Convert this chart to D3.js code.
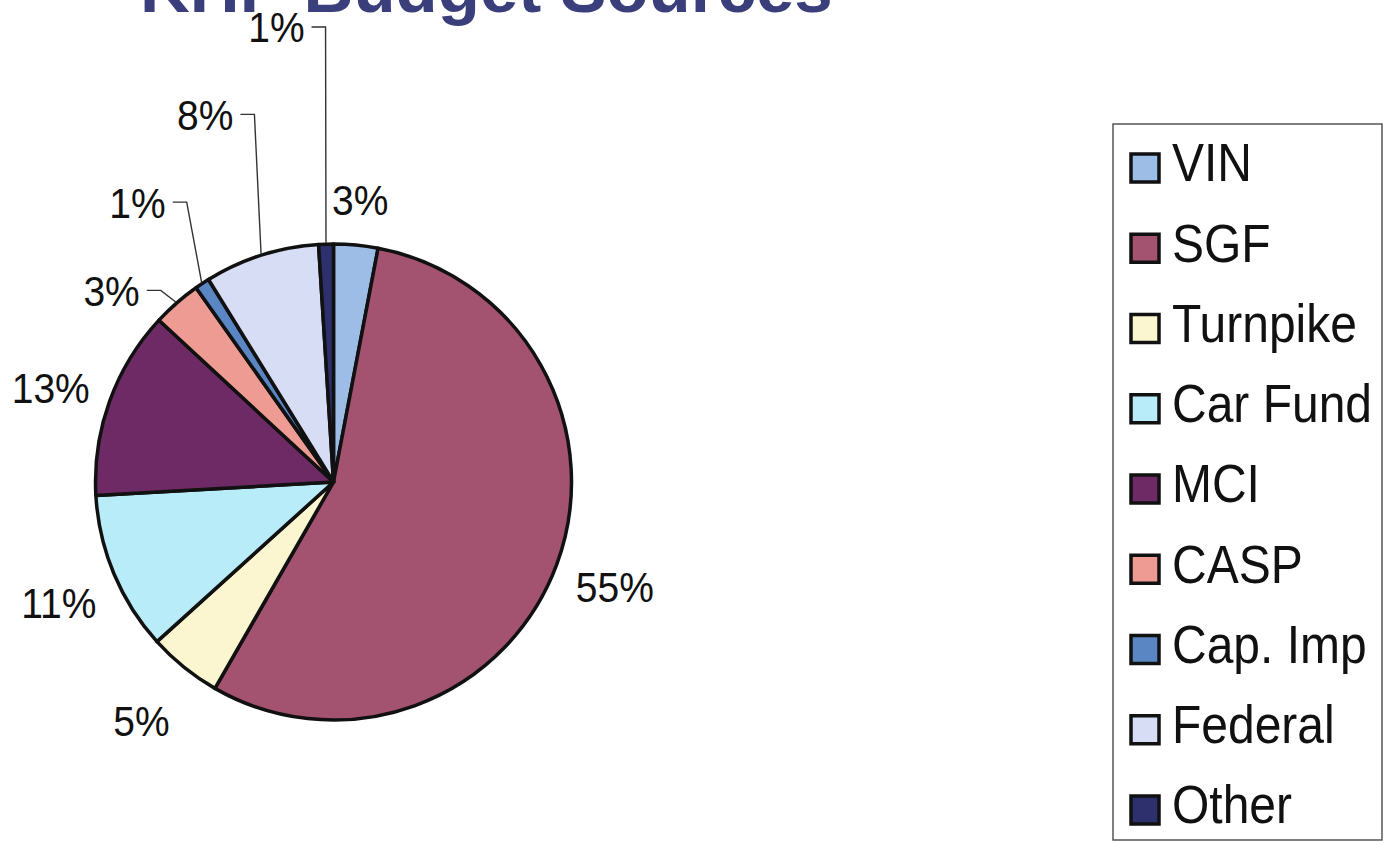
<!DOCTYPE html>
<html>
<head>
<meta charset="utf-8">
<script src="https://cdn.jsdelivr.net/npm/d3@7/dist/d3.min.js"></script>
<style>
  html, body { margin: 0; padding: 0; background: #fff; }
  svg { display: block; }
  text { font-family: "Liberation Sans", Arial, sans-serif; }
</style>
</head>
<body>
<svg id="chart" width="1386" height="845"></svg>
<script>
// ---- data ----
const title = "KHP Budget Sources";
const categories = ["VIN", "SGF", "Turnpike", "Car Fund", "MCI", "CASP", "Cap. Imp", "Federal", "Other"];
const values = [3.0, 55.3, 5.0, 10.8, 12.8, 3.3, 1.0, 7.8, 1.0];
const labels = ["3%", "55%", "5%", "11%", "13%", "3%", "1%", "8%", "1%"];
const colors = ["#9dbde6", "#a3536f", "#fbf6cf", "#b8ecf9", "#6d2a65", "#ee9c93", "#5a86c4", "#d8ddf6", "#2d306c"];

// ---- layout config (label placement, not data) ----
const labelRadius = [284, 300, 306, 300, 298, 258, 316, 376, 455];
const labelShiftDeg = [0, 0, 0, -1, -1.4, -0.8, 5.8, 5.5, 0.8];
const hasLeader = [false, false, false, false, false, true, true, true, true];

const svg = d3.select("#chart");
const cx = 333.5, cy = 482, R = 238;
const textScaleY = 1.1;

// title
svg.append("text")
  .attr("x", 140).attr("y", 12)
  .attr("font-size", 69).attr("font-weight", "bold")
  .attr("fill", "#3a3f7c")
  .text(title);

const pie = d3.pie().sort(null).value(d => d)(values);
const arc = d3.arc().innerRadius(0).outerRadius(R);

const g = svg.append("g").attr("transform", `translate(${cx},${cy})`);
g.selectAll("path.slice").data(pie).join("path")
  .attr("class", "slice")
  .attr("d", arc)
  .attr("fill", (d, i) => colors[i])
  .attr("stroke", "#111")
  .attr("stroke-width", 3.5)
  .attr("stroke-linejoin", "round");

const polar = (r, a) => [r * Math.sin(a), -r * Math.cos(a)];

pie.forEach((d, i) => {
  const mid = (d.startAngle + d.endAngle) / 2;
  const a = mid + labelShiftDeg[i] * Math.PI / 180;
  const [lx, ly] = polar(labelRadius[i], a);
  if (hasLeader[i]) {
    const [px, py] = polar(R + 1, mid);
    g.append("path")
      .attr("d", `M${lx - 14},${ly}L${lx},${ly}L${px},${py}`)
      .attr("fill", "none").attr("stroke", "#333").attr("stroke-width", 1.4);
    g.append("g").attr("transform", `translate(${lx - 21},${ly}) scale(1,${textScaleY})`)
      .append("text")
      .attr("text-anchor", "end").attr("dy", "0.358em")
      .attr("font-size", 39).attr("fill", "#111")
      .text(labels[i]);
  } else {
    g.append("g").attr("transform", `translate(${lx},${ly}) scale(1,${textScaleY})`)
      .append("text")
      .attr("text-anchor", "middle").attr("dy", "0.358em")
      .attr("font-size", 39).attr("fill", "#111")
      .text(labels[i]);
  }
});

// legend
const lg = svg.append("g");
lg.append("rect")
  .attr("x", 1113).attr("y", 124).attr("width", 269).attr("height", 716)
  .attr("fill", "#fff").attr("stroke", "#555").attr("stroke-width", 1.5);
const rowY = d3.scalePoint().domain(categories).range([168, 810]);
const items = lg.selectAll("g.item").data(categories).join("g")
  .attr("class", "item")
  .attr("transform", d => `translate(0,${rowY(d)})`);
items.append("rect")
  .attr("x", 1131).attr("y", -14).attr("width", 28).attr("height", 28)
  .attr("fill", (d, i) => colors[i]).attr("stroke", "#111").attr("stroke-width", 3.5);
items.append("g").attr("transform", `translate(1172,0) scale(1,${textScaleY})`)
  .append("text")
  .attr("dy", "0.358em").attr("y", -5)
  .attr("font-size", 48).attr("fill", "#111")
  .text(d => d);
</script>
</body>
</html>
